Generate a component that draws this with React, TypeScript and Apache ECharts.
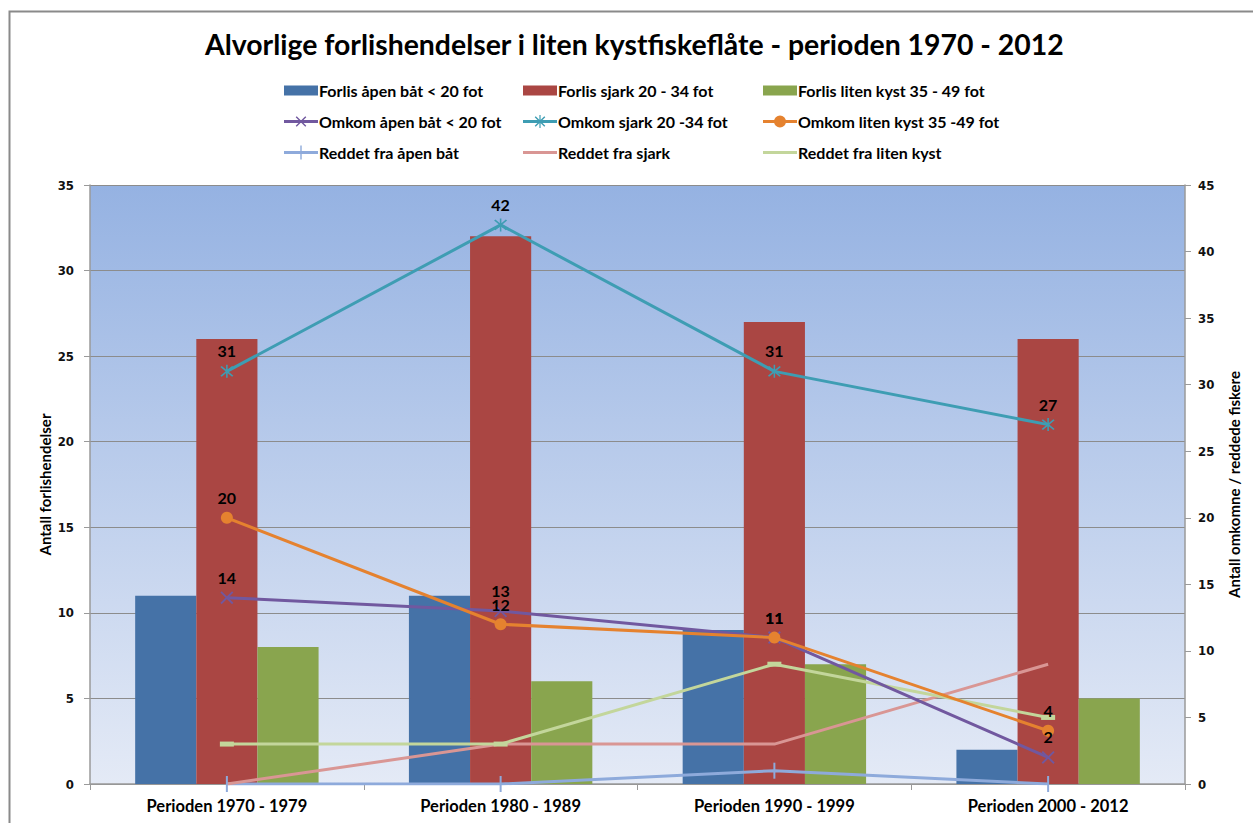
import React, { useEffect, useRef } from "react";
import * as echarts from "echarts";

const categories = ["Perioden 1970 - 1979", "Perioden 1980 - 1989", "Perioden 1990 - 1999", "Perioden 2000 - 2012"];

const forlisApen = [11, 11, 9, 2];
const forlisSjark = [26, 32, 27, 26];
const forlisKyst = [8, 6, 7, 5];

const omkomApen = [14, 13, 11, 2];
const omkomSjark = [31, 42, 31, 27];
const omkomKyst = [20, 12, 11, 4];

const reddetApen = [0, 0, 1, 0];
const reddetSjark = [0, 3, 3, 9];
const reddetKyst = [3, 3, 9, 5];

const leftTicks = { min: 0, max: 35, interval: 5 };
const rightTicks = { min: 0, max: 45, interval: 5 };

const FONT = "Lato";
const TICK_FONT = "DejaVu Sans Condensed";

const X_SYMBOL = "path://M0,1L1,0L10,9L9,10Z M9,0L10,1L1,10L0,9Z";
const STAR_SYMBOL = "path://M0,1L1,0L10,9L9,10Z M9,0L10,1L1,10L0,9Z M4.4,-1L5.6,-1L5.6,11L4.4,11Z";

// legend icons (34 x 14 box)
const BOX = "M0,0 M34,14 ";
const LINE = "M0,5.5L34,5.5L34,8.5L0,8.5Z ";
const ICON_BAR = "path://" + BOX + "M0,2L34,2L34,12L0,12Z";
const ICON_X = "path://" + BOX + LINE + "M11.7,2.7L12.7,1.7L22.3,11.3L21.3,12.3Z M21.3,1.7L22.3,2.7L12.7,12.3L11.7,11.3Z";
const ICON_STAR = "path://" + BOX + LINE + "M11.7,2.7L12.7,1.7L22.3,11.3L21.3,12.3Z M21.3,1.7L22.3,2.7L12.7,12.3L11.7,11.3Z M16.4,0.5L17.6,0.5L17.6,13.5L16.4,13.5Z";
const ICON_CIRCLE = "path://" + BOX + LINE + "M23,7A6,6 0 1 1 11,7A6,6 0 1 1 23,7Z";
const ICON_TICK = "path://" + BOX + LINE + "M16.3,0L17.7,0L17.7,14L16.3,14Z";
const ICON_LINE = "path://" + BOX + LINE;

export default function App() {
  const ref = useRef<HTMLDivElement>(null);

  useEffect(() => {
    if (!ref.current) return;
    const chart = echarts.init(ref.current, undefined, { renderer: "svg" });

    const dataLabel = {
      show: true,
      position: "top",
      distance: 6,
      color: "#000",
      fontFamily: FONT,
      fontWeight: "bold",
      fontSize: 16,
    };

    const lineBase = (name: string, data: number[], color: string) => ({
      name,
      type: "line",
      yAxisIndex: 1,
      data,
      z: 5,
      lineStyle: { color, width: 3 },
      itemStyle: { color },
    });

    const legendBase = {
      orient: "vertical",
      top: 82.5,
      padding: 0,
      itemWidth: 34,
      itemHeight: 14,
      itemGap: 15,
      itemStyle: { borderWidth: 0 },
      textStyle: { fontFamily: FONT, fontWeight: "bold", fontSize: 16, color: "#000", padding: [0, 0, 0, -4] },
    };

    chart.setOption({
      animation: false,
      backgroundColor: "#ffffff",
      title: {
        text: "Alvorlige forlishendelser i liten kystfiskeflåte - perioden 1970 - 2012",
        left: 200,
        top: 25,
        textStyle: { fontFamily: FONT, fontWeight: "bold", fontSize: 28.4, color: "#000" },
      },
      graphic: [
        {
          type: "rect",
          silent: true,
          shape: { x: 9.5, y: 11.5, width: 1400, height: 1000 },
          style: { fill: "none", stroke: "#8a8a8a", lineWidth: 2 },
        },
      ],
      legend: [
        {
          ...legendBase,
          left: 284,
          data: [
            { name: "Forlis åpen båt < 20 fot", icon: ICON_BAR },
            { name: "Omkom åpen båt < 20 fot", icon: ICON_X },
            { name: "Reddet fra åpen båt", icon: ICON_TICK },
          ],
        },
        {
          ...legendBase,
          left: 523,
          data: [
            { name: "Forlis sjark 20 - 34 fot", icon: ICON_BAR },
            { name: "Omkom sjark 20 -34 fot", icon: ICON_STAR },
            { name: "Reddet fra sjark", icon: ICON_LINE },
          ],
        },
        {
          ...legendBase,
          left: 763,
          data: [
            { name: "Forlis liten kyst 35 - 49 fot", icon: ICON_BAR },
            { name: "Omkom liten kyst 35 -49 fot", icon: ICON_CIRCLE },
            { name: "Reddet fra liten kyst", icon: ICON_LINE },
          ],
        },
      ],
      grid: {
        left: 90,
        right: 68,
        top: 185,
        bottom: 39,
        show: true,
        borderWidth: 0,
        backgroundColor: new echarts.graphic.LinearGradient(0, 0, 0, 1, [
          { offset: 0, color: "#95b2e2" },
          { offset: 1, color: "#e4eaf6" },
        ]),
      },
      xAxis: {
        type: "category",
        data: categories,
        axisLine: { lineStyle: { color: "#9a9a9a", width: 1.5 } },
        axisTick: { show: true, length: 6, lineStyle: { color: "#9a9a9a" } },
        axisLabel: { fontFamily: FONT, fontWeight: "bold", fontSize: 16.5, color: "#000", margin: 13 },
      },
      yAxis: [
        {
          type: "value",
          ...leftTicks,
          name: "Antall forlishendelser",
          nameLocation: "middle",
          nameRotate: 90,
          nameGap: 38,
          nameMoveOverlap: false,
          nameTextStyle: { fontFamily: FONT, fontWeight: "bold", fontSize: 15, color: "#000" },
          axisLine: { show: true, lineStyle: { color: "#9a9a9a", width: 1.5 } },
          axisTick: { show: true, length: 6, lineStyle: { color: "#9a9a9a" } },
          axisLabel: { fontFamily: TICK_FONT, fontWeight: "bold", fontSize: 13, color: "#111", margin: 16 },
          splitLine: { show: true, lineStyle: { color: "#8c8c8c", width: 1 } },
        },
        {
          type: "value",
          ...rightTicks,
          position: "right",
          name: "Antall omkomne / reddede fiskere",
          nameLocation: "middle",
          nameRotate: 90,
          nameGap: 41,
          nameMoveOverlap: false,
          nameTextStyle: { fontFamily: FONT, fontWeight: "bold", fontSize: 15, color: "#000" },
          axisLine: { show: true, lineStyle: { color: "#9a9a9a", width: 1.5 } },
          axisTick: { show: true, length: 6, lineStyle: { color: "#9a9a9a" } },
          axisLabel: { fontFamily: TICK_FONT, fontWeight: "bold", fontSize: 13, color: "#111", margin: 13 },
          splitLine: { show: false },
        },
      ],
      series: [
        {
          name: "Forlis åpen båt < 20 fot",
          type: "bar",
          data: forlisApen,
          barGap: "0%",
          barCategoryGap: "33%",
          itemStyle: { color: "#4572a7" },
        },
        {
          name: "Forlis sjark 20 - 34 fot",
          type: "bar",
          data: forlisSjark,
          barGap: "0%",
          barCategoryGap: "33%",
          itemStyle: { color: "#aa4643" },
        },
        {
          name: "Forlis liten kyst 35 - 49 fot",
          type: "bar",
          data: forlisKyst,
          barGap: "0%",
          barCategoryGap: "33%",
          itemStyle: { color: "#89a54e" },
        },
        {
          ...lineBase("Reddet fra åpen båt", reddetApen, "#8eaadb"),
          symbol: "rect",
          symbolSize: [2, 16],
        },
        {
          ...lineBase("Reddet fra sjark", reddetSjark, "#d99694"),
          symbol: "none",
        },
        {
          ...lineBase("Reddet fra liten kyst", reddetKyst, "#c3d69b"),
          symbol: "rect",
          symbolSize: [14, 5],
        },
        {
          ...lineBase("Omkom åpen båt < 20 fot", omkomApen, "#71589f"),
          symbol: X_SYMBOL,
          symbolSize: 13,
          label: dataLabel,
        },
        {
          ...lineBase("Omkom sjark 20 -34 fot", omkomSjark, "#3e9db3"),
          symbol: STAR_SYMBOL,
          symbolSize: 13,
          label: dataLabel,
        },
        {
          ...lineBase("Omkom liten kyst 35 -49 fot", omkomKyst, "#e5822f"),
          symbol: "circle",
          symbolSize: 12,
          label: dataLabel,
        },
      ],
    });

    return () => chart.dispose();
  }, []);

  return (
    <div
      ref={ref}
      style={{ position: "absolute", left: 0, top: 0, width: 1253, height: 823 }}
    />
  );
}
